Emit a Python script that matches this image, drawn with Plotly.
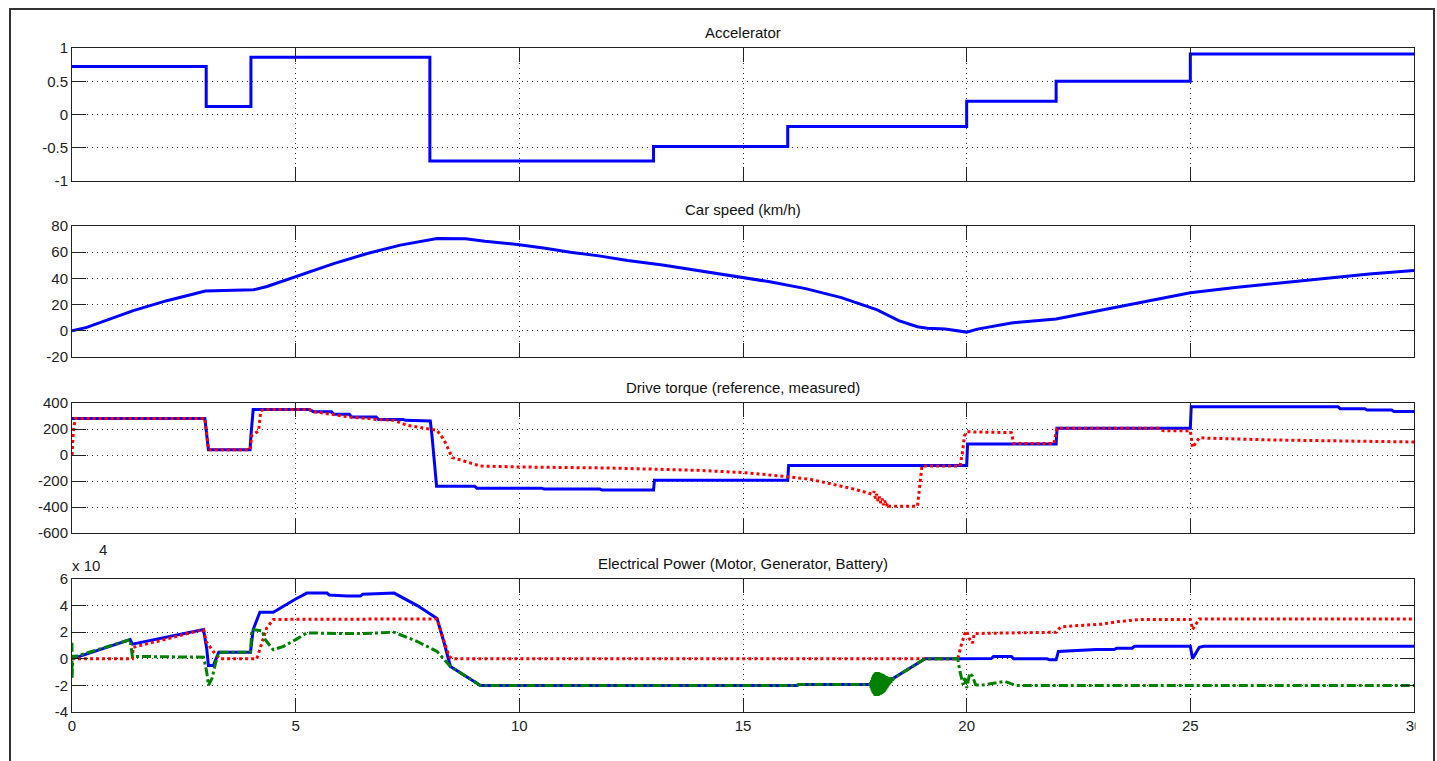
import plotly.graph_objects as go

W, H = 1437, 761

# ---------------- data ----------------
time_ticks = [0, 5, 10, 15, 20, 25, 30]
time_tick_text = ["0", "5", "10", "15", "20", "25", "30"]

# Accelerator (step signal)
acc_t = [0, 3, 4, 8, 13, 16, 20, 22, 25, 30]
acc_v = [0.72, 0.12, 0.86, -0.70, -0.48, -0.18, 0.20, 0.50, 0.91, 0.91]
acc_ticks = [-1, -0.5, 0, 0.5, 1]
acc_tick_text = ["-1", "-0.5", "0", "0.5", "1"]

# Car speed (km/h)
spd_t = [0, 0.33, 1.37, 2.12, 2.98, 3.46, 4.06, 4.36, 5, 5.85, 6.6, 7.34, 8.16, 8.8,
         9.23, 9.62, 10, 10.58, 11.14, 11.78, 12.42, 13.2, 14.0, 15, 15.6, 16.4, 17.2,
         18.0, 18.48, 18.9, 19.12, 19.52, 19.92, 20.0, 20.24, 20.72, 21, 22, 23, 24,
         25, 26, 27, 28, 29, 30]
spd_v = [0, 2.6, 15.4, 23, 30.3, 30.8, 31.3, 33.8, 41.5, 51.3, 59, 65.4, 70.5, 70.3,
         68.3, 67, 65.7, 63, 60, 57.2, 53.6, 50.3, 45.9, 40.7, 37.4, 32.2, 25.3,
         16, 7.7, 3.1, 2, 1.3, -0.5, -1.0, 1.3, 4.6, 6, 9, 15.5, 22, 29, 33, 36.5,
         40, 43.3, 46]
spd_ticks = [-20, 0, 20, 40, 60, 80]
spd_tick_text = ["-20", "0", "20", "40", "60", "80"]

# Drive torque: reference (blue) and measured (red)
tq_ref_t = [0, 2.97, 3.05, 3.98, 4.0, 4.05, 5.3, 5.4, 5.8, 5.85, 6.2, 6.25, 6.8, 6.85,
            7.4, 7.45, 8.01, 8.05, 8.15, 9.0, 9.05, 10.5, 10.55, 11.8, 11.85, 13.0,
            13.02, 16.0, 16.02, 20.0, 20.02, 22.0, 22.02, 25.0, 25.02, 28.3, 28.35,
            28.9, 28.95, 29.5, 29.55, 30]
tq_ref_v = [280, 280, 40, 40, 150, 350, 350, 333, 333, 313, 313, 292, 292, 274,
            274, 267, 262, 140, -240, -240, -255, -255, -262, -262, -270, -270,
            -195, -195, -80, -80, 85, 85, 205, 205, 372, 372, 356,
            356, 346, 346, 335, 335]
tq_meas_t = [0, 0.03, 0.07, 2.97, 3.05, 3.98, 4.02, 4.17, 4.22, 4.27, 5.3, 5.4, 5.8,
             6.2, 6.8, 7.2, 7.49, 7.94, 8.16, 8.31, 8.5, 8.76, 9.13, 10, 12, 14, 15.05,
             16.0, 16.5, 17.02, 17.5, 17.9, 17.93, 17.96, 17.99, 18.02, 18.05, 18.08,
             18.11, 18.14, 18.17, 18.2, 18.23, 18.26, 18.3, 18.9, 19.0, 19.05, 19.85,
             19.9, 19.95, 20.0, 20.1, 21.0, 21.05, 21.95, 22.02, 24.3, 24.4, 25.0,
             25.05, 25.2, 25.4, 26.8, 29.5, 30]
tq_meas_v = [0, 180, 280, 280, 40, 40, 150, 185, 338, 350, 350, 333, 313,
             292, 274, 267, 228, 203, 190, 120, -20, -46, -85, -92, -100, -118, -136,
             -167, -187, -226, -264, -303, -280, -335, -300, -355, -320, -370,
             -335, -385, -350, -392, -370, -395, -395, -395, -85, -85, -85,
             5, 146, 180, 178, 172, 88, 88, 205, 205, 186, 186,
             57, 134, 129, 116, 103, 100]
tq_ticks = [-600, -400, -200, 0, 200, 400]
tq_tick_text = ["-600", "-400", "-200", "0", "200", "400"]

# Electrical power (x 10^4 W): motor (blue), generator (red), battery (green)
pm_t = [0, 1.3, 1.35, 2.94, 3.01, 3.05, 3.16, 3.28, 3.99, 4.05, 4.2, 4.5, 5.0, 5.25,
        5.7, 5.75, 6.15, 6.45, 6.5, 7.2, 7.72, 8.16, 8.31, 8.46, 9.13, 16.2, 16.25,
        17.85, 18.37, 19.07, 19.8, 20.0, 20.55, 20.6, 21.0, 21.05, 21.8, 21.85, 22.0,
        22.05, 22.5, 22.9, 23.3, 23.35, 23.7, 23.75, 25.0, 25.05, 25.2, 25.3, 30]
pm_v = [0, 1.44, 1.1, 2.2, 0.8, -0.5, -0.5, 0.5, 0.5, 2.2, 3.5, 3.5, 4.5, 4.94,
        4.94, 4.8, 4.73, 4.73, 4.86, 4.94, 4.0, 3.04, 1.3, -0.58, -2.0, -2.0, -1.94,
        -1.94, -1.45, 0.0, 0.0, 0.02, 0.02, 0.17, 0.17, 0.0, 0.0, -0.08, -0.08,
        0.55, 0.62, 0.7, 0.7, 0.8, 0.8, 0.94, 0.94, 0.0, 0.86, 0.94, 0.94]
pg_t = [0, 1.35, 1.37, 2.94, 3.0, 3.16, 3.3, 4.13, 4.28, 4.35, 4.5, 8.16, 8.27, 8.43,
        8.5, 19.8, 19.88, 19.96, 20.0, 20.05, 20.13, 20.17, 22.0, 22.1, 22.5, 23.0,
        23.4, 23.9, 25.0, 25.05, 25.2, 30]
pg_v = [0, 0, 0.86, 2.2, 1.3, 0.55, 0, 0, 1.57, 2.3, 2.96, 3.0, 1.8, 0.18,
        0, 0, 1.05, 1.9, 2.1, 1.55, 1.17, 1.9, 2.0, 2.4, 2.5, 2.6,
        2.8, 2.96, 2.96, 2.2, 3.0, 3.0]
pb_t = [0, 0, 0.02, 0.1, 1.3, 1.35, 2.94, 3.01, 3.05, 3.13, 3.2, 3.28, 3.99, 4.02,
        4.25, 4.32, 4.5, 4.73, 5.0, 5.25, 6.0, 6.5, 7.2, 7.72, 8.16, 8.46, 9.13,
        16.2, 16.25, 17.85, 18.37, 19.07, 19.8, 19.85, 19.92, 19.96, 20.0, 20.07,
        20.13, 20.2, 20.3, 20.7, 20.85, 21.1, 30]
pb_v = [1.2, -1.47, 0.2, 0.2, 1.44, 0.18, 0.12, -0.96, -2.0, -1.47, -0.45, 0.5, 0.5, 2.2,
        2.1, 1.44, 0.68, 0.94, 1.44, 1.95, 1.9, 1.9, 2.0, 1.3, 0.56, -0.58, -2.0,
        -2.0, -1.94, -1.94, -1.45, 0.0, 0.0, -0.95, -1.95, -1.45, -2.2, -1.07,
        -1.3, -1.95, -2.0, -1.8, -1.7, -2.0, -2.0]
# battery oscillation burst near t = 18 s
pb_osc_t = [17.84, 17.86, 17.87, 17.88, 17.89, 17.90, 17.91, 17.92, 17.93, 17.94, 17.95,
            17.96, 17.97, 17.98, 17.99, 18.00, 18.01, 18.02, 18.03, 18.04, 18.05, 18.06,
            18.07, 18.08, 18.09, 18.10, 18.11, 18.12, 18.13, 18.14, 18.15, 18.16, 18.17,
            18.18, 18.19, 18.20, 18.21, 18.22, 18.23, 18.24, 18.25, 18.26, 18.27, 18.28,
            18.30, 18.32, 18.34, 18.36]
pb_osc_v = [-1.95, -1.8, -2.2, -1.6, -2.4, -1.4, -2.55, -1.25, -2.65, -1.15, -2.75,
            -1.05, -2.8, -1.0, -2.8, -1.0, -2.8, -1.0, -2.75, -1.05, -2.7, -1.05,
            -2.7, -1.1, -2.65, -1.1, -2.6, -1.15, -2.55, -1.2, -2.5, -1.25, -2.4,
            -1.3, -2.3, -1.3, -2.2, -1.35, -2.1, -1.4, -2.0, -1.4, -1.9, -1.45,
            -1.8, -1.45, -1.6, -1.5]
pw_ticks = [-4, -2, 0, 2, 4, 6]
pw_tick_text = ["-4", "-2", "0", "2", "4", "6"]

titles = ["Accelerator", "Car speed (km/h)", "Drive torque (reference, measured)",
          "Electrical Power (Motor, Generator, Battery)"]

# ---------------- layout helpers ----------------
FONT = "Liberation Sans, Arial, sans-serif"
AXC = "#222222"
GRIDC = "#333333"
BLUE, RED, GREEN = "#0000ff", "#ff0000", "#008000"

x_dom = [72 / W, 1414 / W]
# (top px, bottom px) for each axes box
boxes = [(48, 181), (226, 357), (403, 533), (579, 712)]
y_ranges = [[-1, 1], [-20, 80], [-600, 400], [-4, 6]]
y_ticks = [(acc_ticks, acc_tick_text), (spd_ticks, spd_tick_text),
           (tq_ticks, tq_tick_text), (pw_ticks, pw_tick_text)]

fig = go.Figure()

def add(x, y, i, color, dash="solid", width=3):
    fig.add_trace(go.Scatter(x=x, y=y, mode="lines", xaxis=f"x{i}", yaxis=f"y{i}",
                             line=dict(color=color, width=width, dash=dash),
                             showlegend=False, hoverinfo="skip"))

add(acc_t, acc_v, 1, BLUE)
fig.data[-1].line.shape = "hv"
add(spd_t, spd_v, 2, BLUE)
add(tq_ref_t, tq_ref_v, 3, BLUE)
add(tq_meas_t, tq_meas_v, 3, RED, dash="dot")
add(pm_t, pm_v, 4, BLUE)
add(pg_t, pg_v, 4, RED, dash="dot")
add(pb_t, pb_v, 4, GREEN, dash="dashdot")
add(pb_osc_t, pb_osc_v, 4, GREEN, width=3.5)

layout = dict(
    template="none",
    width=W, height=H,
    margin=dict(l=0, r=0, t=0, b=0, pad=0, autoexpand=False),
    paper_bgcolor="white", plot_bgcolor="white",
    font=dict(family=FONT, size=15, color=AXC),
    showlegend=False,
)

annotations = []
for i in range(1, 5):
    top, bot = boxes[i - 1]
    sfx = "" if i == 1 else str(i)
    layout["xaxis" + sfx] = dict(
        domain=x_dom, anchor="y" + sfx, range=[0, 30], automargin=False,
        tickvals=time_ticks, ticktext=time_tick_text,
        showticklabels=(i == 4),
        ticks="inside", ticklen=14, tickwidth=1, tickcolor=AXC,
        mirror="ticks", showline=True, linecolor=AXC, linewidth=1,
        showgrid=True, gridcolor=GRIDC, gridwidth=1, griddash="1px,4px",
        zeroline=False, tickfont=dict(size=15, family=FONT, color=AXC),
    )
    tv, tt = y_ticks[i - 1]
    layout["yaxis" + sfx] = dict(
        domain=[1 - bot / H, 1 - top / H], anchor="x" + sfx, range=y_ranges[i - 1],
        automargin=False,
        tickvals=tv, ticktext=tt,
        ticks="inside", ticklen=14, tickwidth=1, tickcolor=AXC,
        mirror="ticks", showline=True, linecolor=AXC, linewidth=1,
        showgrid=True, gridcolor=GRIDC, gridwidth=1, griddash="1px,4px",
        zeroline=False, tickfont=dict(size=15, family=FONT, color=AXC),
    )
    annotations.append(dict(
        text=titles[i - 1], xref="paper", yref="paper",
        x=(x_dom[0] + x_dom[1]) / 2, y=1 - (top - 16) / H,
        xanchor="center", yanchor="middle", showarrow=False,
        font=dict(size=15, family=FONT, color="#111111")))

# exponent label for power axis
annotations.append(dict(text="x 10", xref="paper", yref="paper", x=70 / W, y=1 - 565 / H,
                        xanchor="left", yanchor="middle", showarrow=False,
                        font=dict(size=15, family=FONT, color=AXC)))
annotations.append(dict(text="4", xref="paper", yref="paper", x=97 / W, y=1 - 549 / H,
                        xanchor="left", yanchor="middle", showarrow=False,
                        font=dict(size=15, family=FONT, color=AXC)))
layout["annotations"] = annotations

layout["shapes"] = [
    # figure frame
    dict(type="rect", xref="paper", yref="paper", x0=10 / W, x1=1434 / W,
         y0=-0.05, y1=1 - 9 / H, line=dict(color="#333333", width=2),
         fillcolor="rgba(0,0,0,0)", layer="above"),
    # clip the last x tick label at the figure's edge, as in the original
    dict(type="rect", xref="paper", yref="paper", x0=1415.5 / W, x1=1430 / W,
         y0=1 - 745 / H, y1=1 - 714 / H, line=dict(width=0),
         fillcolor="white", layer="above"),
]

fig.update_layout(**layout)
fig.write_html("out.html", config={"displayModeBar": False},
               post_script="document.body.style.margin='0';"
                           "document.body.style.overflow='hidden';")
